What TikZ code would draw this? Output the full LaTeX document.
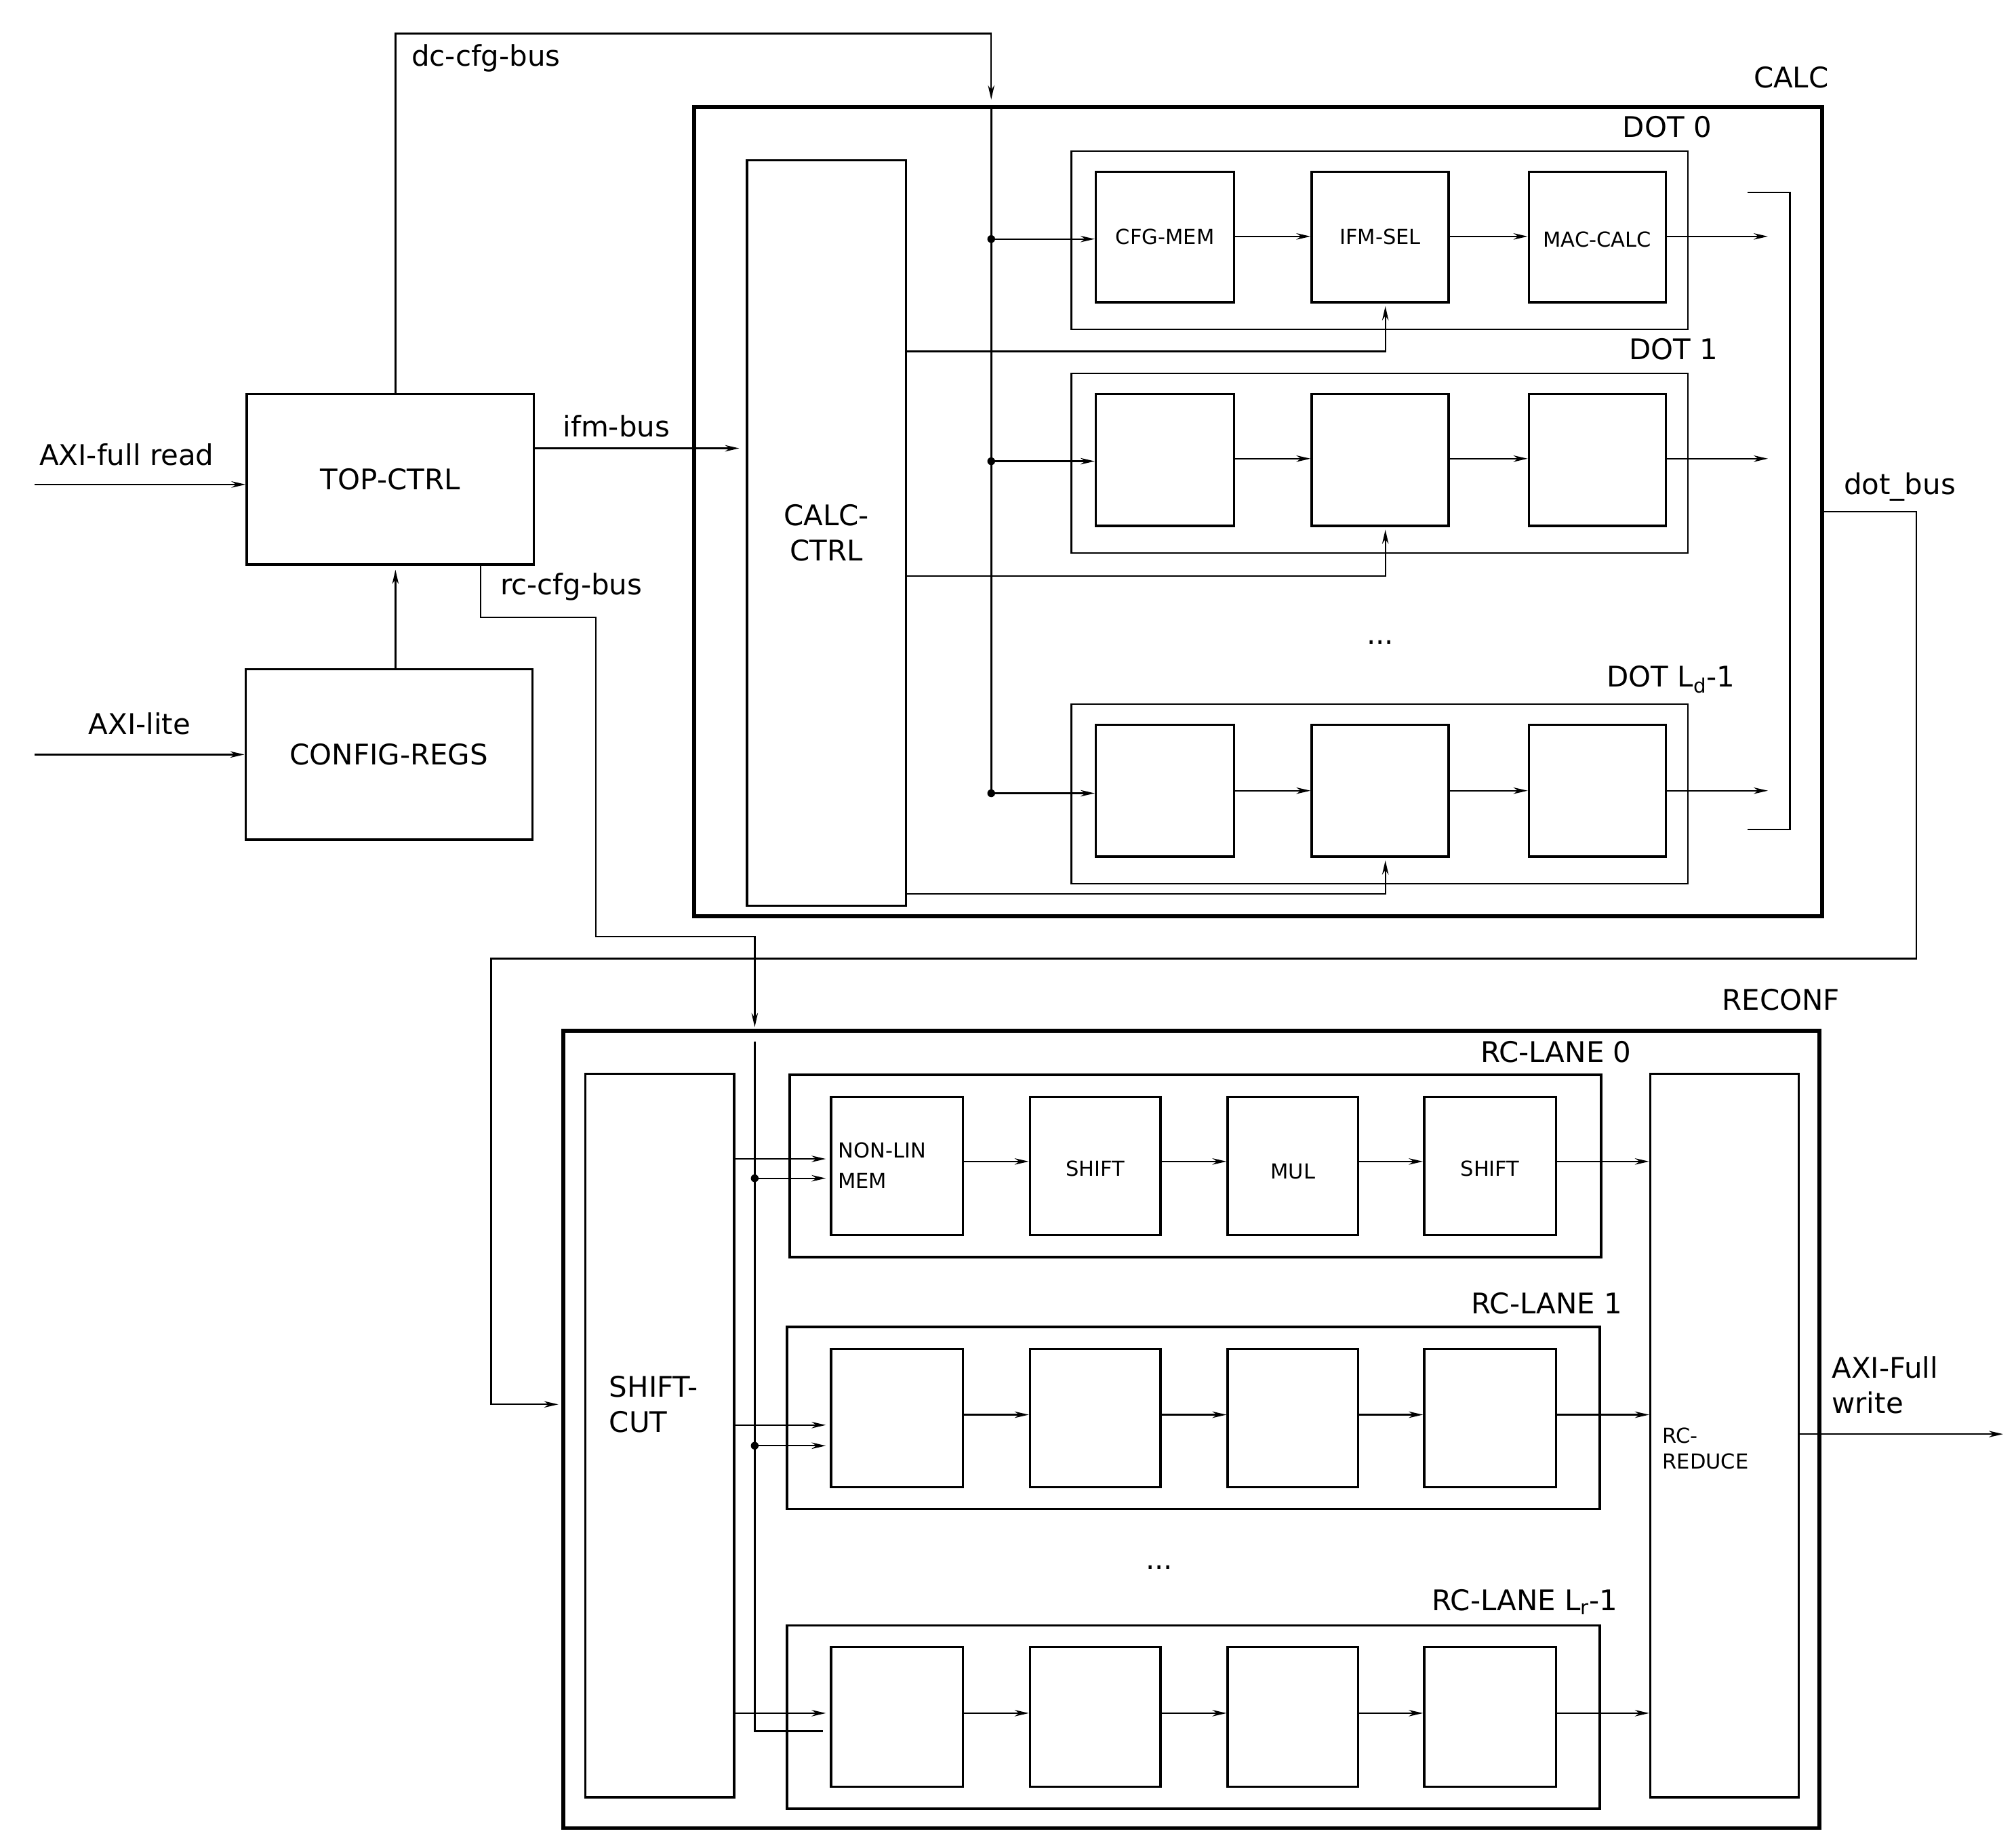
\documentclass[tikz,border=0pt]{standalone}
\usepackage{fontspec}
\setmainfont{DejaVu Sans}
\usetikzlibrary{arrows.meta}
\newcommand\bx[7][]{\node[draw,inner sep=0pt,align=center,minimum width={#5-#3},minimum height={#6-#4},#1] (#2) at ({(#3+#5)/2},{(#4+#6)/2}) {#7};}
\tikzset{x=1pt,y=-1pt,
 thk/.style={line width=3pt},
 med/.style={line width=1.8pt},
 thn/.style={line width=1.2pt},
 ar/.style={line width=1.2pt,-{Stealth[length=11pt,width=5pt]}},
 big/.style={font=\fontsize{22}{27}\selectfont},
 sml/.style={font=\fontsize{16}{20}\selectfont},
 dotc/.style={circle,fill,inner sep=0pt,minimum size=6pt}}
\begin{document}
\begin{tikzpicture}[big]
\useasboundingbox (0,0) rectangle (1560,1427);
% top left
\bx[med]{top}{191}{305}{413}{437}{TOP-CTRL}
\bx[med]{cfg}{190}{518}{412}{650}{CONFIG-REGS}
\node (l1) at (98,352) {AXI-full read};
\node (l2) at (108,560) {AXI-lite};
\coordinate (i1) at (27,375); \coordinate (i2) at (27,584);
\draw[ar] (i1) -- (top.west|-i1);
\draw[ar] (i2) -- (cfg.west|-i2);
\draw[ar] (cfg.north-|306,0) -- (306,441);
% CALC
\bx[thk]{calc}{537}{83}{1410}{709}{}
\node at (1386,60) {CALC};
\bx[med]{cc}{578}{124}{701}{701}{CALC-\\CTRL}
\coordinate (dcend) at (767,77);
\draw[ar] (306,305) -- (306,26) -- (767,26) -- (dcend);
\node[anchor=west] at (315,45) {dc-cfg-bus};
\draw[ar] (top.east|-0,347) -- (572,347);
\node at (477,330) {ifm-bus};
\draw[med] (767,83) -- (767,614);
% DOTs
\foreach \n/\yt/\yb/\lab/\lx/\ay/\fb in {0/117/255/DOT 0/1290/183/272,1/289/428/DOT 1/1295/355/446,2/545/684/{DOT L\textsubscript{d}-1}/1293/612/692}{
 \pgfmathsetmacro\iyt{\yt+16}\pgfmathsetmacro\iyb{\yb-21}
 \bx[thn]{d\n}{829}{\yt}{1306}{\yb}{}
 \node at (\lx,{\yt-19}) {\lab};
 \bx[med]{da\n}{848}{\iyt}{955}{\iyb}{}
 \bx[med]{db\n}{1015}{\iyt}{1121}{\iyb}{}
 \bx[med]{dc\n}{1183}{\iyt}{1289}{\iyb}{}
 \node[dotc] at (767,{\ay+2}) {};
 \draw[ar] (767,{\ay+2}) -- (da\n.west|-0,{\ay+2});
 \draw[ar] (da\n.east|-0,\ay) -- (db\n.west|-0,\ay);
 \draw[ar] (db\n.east|-0,\ay) -- (dc\n.west|-0,\ay);
 \draw[ar] (dc\n.east|-0,\ay) -- (1368,\ay);
 \draw[ar] (cc.east|-0,\fb) -- (1072,\fb) -- (1072,{\iyb+3});
}
\node[sml] at (da0) {CFG-MEM};
\node[sml] at (db0) {IFM-SEL};
\node[sml] at ([yshift=-2pt]dc0) {MAC-CALC};
\node at (1068,497) {...};
\draw[thn] (1352,149) -- (1385,149) -- (1385,642) -- (1352,642);
\coordinate (rin) at (432,1087);
\draw[ar] (calc.east|-0,396) -- (1483,396) -- (1483,742) -- (380,742) -- (380,1087) -- (rin);
\node at (1470,377) {dot\_bus};
% rc-cfg-bus
\draw[ar] (top.south-|372,0) -- (372,478) -- (461,478) -- (461,725) -- (584,725) -- (584,795);
\node at (442,454) {rc-cfg-bus};
% RECONF
\bx[thk]{rec}{436}{798}{1408}{1415}{}
\node at (1378,774) {RECONF};
\bx[med]{sc}{453}{831}{568}{1391}{}
\node[anchor=west,align=left] at (468,1087) {SHIFT-\\CUT};
\bx[med]{rr}{1277}{831}{1392}{1391}{}
\node[sml,anchor=west,align=left] at (1283,1121) {RC-\\REDUCE};
\draw[thn] (584,806) -- (584,1340) -- (637,1340);
\foreach \n/\yt/\yb/\xl/\xr/\lab/\lx/\ay/\ia/\ib in {0/832/973/611/1239/RC-LANE 0/1204/899/897/912,1/1027/1168/609/1238/RC-LANE 1/1197/1095/1103/1119,2/1258/1400/609/1238/{RC-LANE L\textsubscript{r}-1}/1180/1326/1326/1340}{
 \pgfmathsetmacro\iyt{\yt+17}\pgfmathsetmacro\iyb{\yb-17}
 \bx[med]{r\n}{\xl}{\yt}{\xr}{\yb}{}
 \node at (\lx,{\yt-18}) {\lab};
 \bx[med]{ra\n}{643}{\iyt}{745}{\iyb}{}
 \bx[med]{rb\n}{797}{\iyt}{898}{\iyb}{}
 \bx[med]{rc\n}{950}{\iyt}{1051}{\iyb}{}
 \bx[med]{rd\n}{1102}{\iyt}{1204}{\iyb}{}
 \draw[ar] (ra\n.east|-0,\ay) -- (rb\n.west|-0,\ay);
 \draw[ar] (rb\n.east|-0,\ay) -- (rc\n.west|-0,\ay);
 \draw[ar] (rc\n.east|-0,\ay) -- (rd\n.west|-0,\ay);
 \draw[ar] (rd\n.east|-0,\ay) -- (rr.west|-0,\ay);
 \draw[ar] (sc.east|-0,\ia) -- (639,\ia);
}
\foreach \y in {912,1119}{\node[dotc] at (584,\y) {}; \draw[ar] (584,\y) -- (639,\y);}
\node[sml,anchor=west,align=left] at (645,902) {NON-LIN\\[4pt]MEM};
\node[sml] at ([yshift=-2pt]rb0) {SHIFT};
\node[sml] at ([yshift=-4pt]rc0) {MUL};
\node[sml] at ([yshift=-2pt]rd0) {SHIFT};
\node at (897,1213) {...};
\coordinate (out) at (1550,1110);
\draw[ar] (rr.east|-out) -- (out);
\node[anchor=west,align=left] at (1414,1072) {AXI-Full\\write};
\end{tikzpicture}
\end{document}
